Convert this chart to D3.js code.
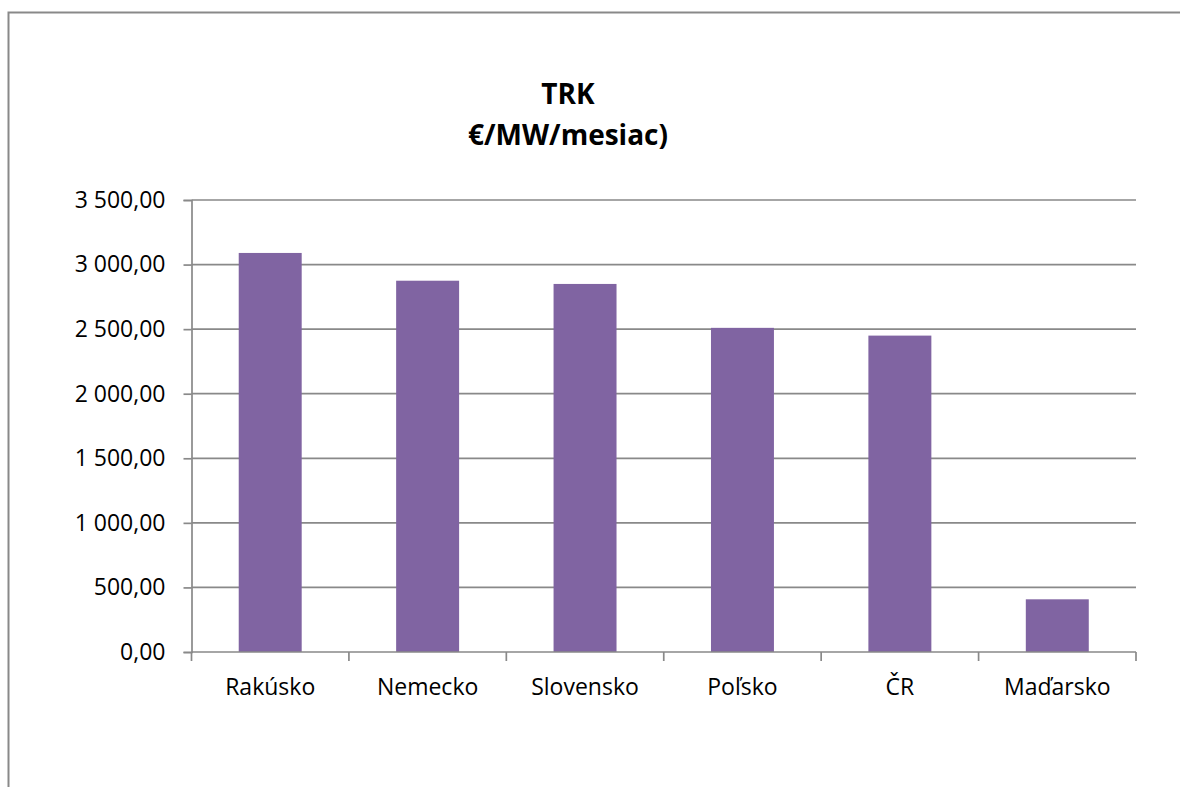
<!DOCTYPE html>
<html><head><meta charset="utf-8">
<script src="https://cdn.jsdelivr.net/npm/d3@7/dist/d3.min.js"></script>
<style>html,body{margin:0;padding:0;background:#fff;overflow:hidden}</style>
</head><body>
<svg id="c" width="1180" height="787"></svg>
<script>
const categories = ["Rakúsko","Nemecko","Slovensko","Poľsko","ČR","Maďarsko"];
const values = [3090, 2875, 2850, 2510, 2450, 408];
const yTicks = [0,500,1000,1500,2000,2500,3000,3500];
const titleLines = ["TRK","€/MW/mesiac)"];

(function(){
const svg = d3.select("#c");
const font = "'Open Sans', 'Noto Sans', sans-serif";
const pL = 191.5, pR = 1136, pT = 200, pB = 652;

// outer frame (cropped on right and bottom)
svg.append("path").attr("d", `M8.5,800 L8.5,12.5 L1190,12.5`)
  .attr("fill","none").attr("stroke","#898989").attr("stroke-width",2);

const x = d3.scaleBand().domain(categories).range([pL,pR]).paddingInner(0.6).paddingOuter(0.3);
const y = d3.scaleLinear().domain([0,3500]).range([pB,pT]);

// gridlines
svg.append("g").selectAll("line").data(yTicks.filter(d=>d>0)).join("line")
  .attr("x1",pL).attr("x2",pR).attr("y1",d=>y(d)).attr("y2",d=>y(d))
  .attr("stroke","#898989").attr("stroke-width",1.7);

// bars
svg.append("g").selectAll("rect").data(values).join("rect")
  .attr("x",(d,i)=>x(categories[i])).attr("width",x.bandwidth())
  .attr("y",d=>y(d)).attr("height",d=>y(0)-y(d))
  .attr("fill","#8064A2");

// y axis
const yAxis = d3.axisLeft(y).tickValues(yTicks).tickSize(8).tickPadding(18)
  .tickFormat(d => d3.format(",.2f")(d).replace(/,/g," ").replace(".",","));
const gy = svg.append("g").attr("transform",`translate(${pL},0)`).call(yAxis);
gy.select(".domain").attr("stroke","#898989").attr("stroke-width",1.7);
gy.selectAll(".tick line").attr("stroke","#898989").attr("stroke-width",1.7);
gy.selectAll("text").attr("font-family",font).attr("font-size",23).attr("fill","#000");

// x axis
const step = x.step();
const bounds = d3.range(categories.length+1).map(i => pL + i*step);
svg.append("line").attr("x1",pL).attr("x2",pR).attr("y1",pB).attr("y2",pB)
  .attr("stroke","#898989").attr("stroke-width",1.7);
svg.append("g").selectAll("line").data(bounds).join("line")
  .attr("x1",d=>d).attr("x2",d=>d).attr("y1",pB).attr("y2",pB+9)
  .attr("stroke","#898989").attr("stroke-width",1.7);
svg.append("g").selectAll("text").data(categories).join("text")
  .attr("x",d=>x(d)+x.bandwidth()/2).attr("y",695)
  .attr("text-anchor","middle").attr("font-family",font).attr("font-size",23).attr("fill","#000")
  .text(d=>d);

// title
svg.append("g").selectAll("text").data(titleLines).join("text")
  .attr("x",568).attr("y",(d,i)=>104+i*41)
  .attr("text-anchor","middle").attr("font-family",font).attr("font-weight","bold")
  .attr("font-size",28).attr("fill","#000").text(d=>d);
})();
</script>
</body></html>
